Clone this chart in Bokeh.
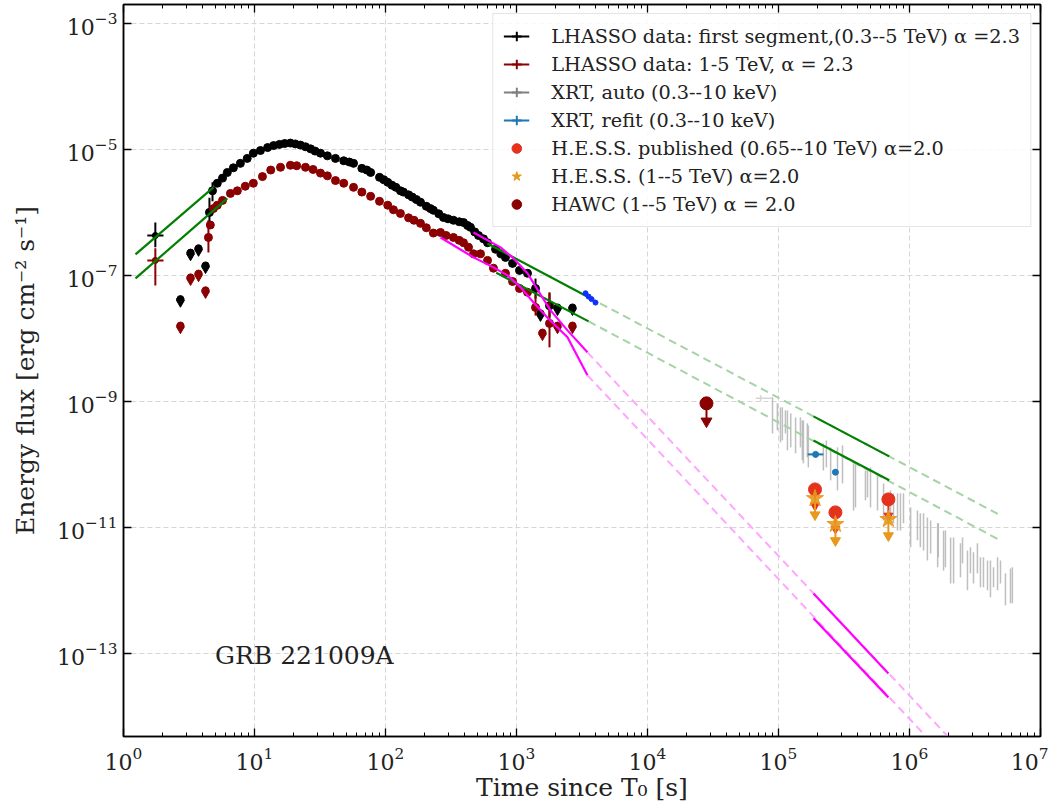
import math
from bokeh.plotting import figure
from bokeh.models import (ColumnDataSource, FixedTicker, LogAxis, Legend, LegendItem, Label)
from bokeh.embed import file_html
from bokeh.resources import INLINE

FONT = "DejaVu Serif"

# ---------------- data ----------------
# LHAASO first segment (0.3--5 TeV), black
lh1_t = [4.53, 4.78, 5.2, 5.7, 6.2, 6.9, 7.8, 8.8, 9.8, 11.1, 12.6, 14, 15.5, 17, 18.8, 20.5, 22.4, 24.5,
         26.8, 29, 31.9, 36, 41.5, 48, 53, 57, 66, 72, 77, 90, 97, 104, 112, 120, 130, 137, 150, 160, 172,
         185, 205, 220, 232, 255, 277, 300, 330, 365, 394, 423, 445, 480, 513, 560, 601, 692, 760, 824,
         933, 1054, 1213, 1397, 1786]
lh1_f = [1.0e-6, 2.2e-6, 2.9e-6, 3.5e-6, 4.3e-6, 5.1e-6, 6.0e-6, 7.2e-6, 8.7e-6, 9.6e-6, 1.07e-5, 1.15e-5,
         1.2e-5, 1.24e-5, 1.26e-5, 1.22e-5, 1.17e-5, 1.1e-5, 1.02e-5, 9.4e-6, 8.7e-6, 7.9e-6, 7.2e-6, 6.6e-6,
         6.3e-6, 6.0e-6, 5.0e-6, 4.7e-6, 4.3e-6, 3.6e-6, 3.3e-6, 3.0e-6, 2.7e-6, 2.5e-6, 2.2e-6, 2.1e-6,
         1.9e-6, 1.75e-6, 1.6e-6, 1.45e-6, 1.25e-6, 1.15e-6, 1.08e-6, 9.5e-7, 8.3e-7, 7.9e-7, 7.5e-7, 7.1e-7,
         6.9e-7, 6.2e-7, 5.8e-7, 4.9e-7, 4.3e-7, 3.8e-7, 3.3e-7, 2.6e-7, 2.2e-7, 1.93e-7, 1.55e-7, 1.2e-7,
         1.08e-7, 6.2e-8, 3.3e-8]
lh1_err_t = [1.75, 4.53, 4.78, 1397, 1786]
lh1_err_lo = [2.8e-7, 6.0e-7, 1.5e-6, 4.3e-8, 2.15e-8]
lh1_err_hi = [6.9e-7, 1.7e-6, 3.0e-6, 8.9e-8, 5.2e-8]
lh1_first_t, lh1_first_f, lh1_first_tlo, lh1_first_thi = [1.75], [4.3e-7], [1.52], [2.02]
lh1_ul_t = [2.72, 3.25, 3.74, 4.23, 1524, 2056, 2675]
lh1_ul_f = [4.2e-8, 2.3e-7, 2.7e-7, 1.44e-7, 2.5e-8, 3.1e-8, 3.1e-8]

# LHAASO 1-5 TeV, dark red
lh2_t = [4.45, 4.6, 4.86, 5.2, 5.7, 6.55, 7.4, 8.5, 9.8, 11.5, 13.3, 15.8, 18.8, 21, 24.5, 28, 31.9, 36,
         41.5, 48, 57, 66, 77, 90, 104, 115, 130, 150, 165, 185, 205, 232, 263, 290, 330, 365, 394, 430,
         470, 531, 601, 667, 824, 933, 1054, 1213, 1397, 1786]
lh2_f = [4.0e-7, 6.3e-7, 1.15e-6, 1.3e-6, 1.55e-6, 2.0e-6, 2.2e-6, 2.6e-6, 2.9e-6, 3.7e-6, 4.7e-6, 5.2e-6,
         5.6e-6, 5.5e-6, 5.2e-6, 4.8e-6, 4.2e-6, 3.8e-6, 3.2e-6, 2.9e-6, 2.5e-6, 2.1e-6, 1.8e-6, 1.5e-6,
         1.3e-6, 1.1e-6, 9.6e-7, 8.2e-7, 7.5e-7, 6.7e-7, 5.7e-7, 4.7e-7, 4.8e-7, 4.3e-7, 4.0e-7, 3.6e-7,
         3.3e-7, 2.8e-7, 2.2e-7, 2.2e-7, 1.73e-7, 1.3e-7, 1.08e-7, 8.0e-8, 6.2e-8, 5.4e-8, 3.1e-8, 1.73e-8]
lh2_err_t = [1.75, 4.45, 1397, 1786]
lh2_err_lo = [6.9e-8, 2.3e-7, 2.3e-8, 7.2e-9]
lh2_err_hi = [2.7e-7, 7.5e-7, 4.8e-8, 5.4e-8]
lh2_first_t, lh2_first_f, lh2_first_tlo, lh2_first_thi = [1.75], [1.73e-7], [1.52], [2.02]
lh2_ul_t = [2.72, 3.25, 3.74, 4.23, 1578, 2056, 2675]
lh2_ul_f = [1.6e-8, 9.3e-8, 1.07e-7, 5.8e-8, 1.24e-8, 1.6e-8, 1.6e-8]

# XRT (auto), grey error bars: time, upper and lower end of each bar
xrt_t = [9.0e4, 9.8e4, 1.07e5, 1.13e5, 1.24e5, 1.35e5, 1.47e5, 1.55e5, 1.66e5, 2.2e5, 2.32e5, 2.5e5,
         2.82e5, 3.08e5, 3.87e5, 4.61e5, 5.04e5, 5.7e5, 6.34e5, 7.16e5, 8.1e5, 9.0e5, 1.02e6, 1.15e6,
         1.28e6, 1.45e6, 1.66e6, 1.88e6, 2.17e6, 2.54e6, 2.92e6, 3.3e6, 3.67e6, 4.15e6, 4.7e6, 5.4e6, 6.1e6]
xrt_hi = [1.16e-9, 9.29e-10, 8.04e-10, 7.19e-10, 6.46e-10, 5.57e-10, 5.57e-10, 4.99e-10, 4.48e-10,
          2.15e-10, 2.40e-10, 1.86e-10, 1.86e-10, 2.0e-10, 1.04e-10, 8.0e-11, 8.95e-11, 7.19e-11, 4.99e-11,
          3.86e-11, 3.47e-11, 3.47e-11, 2.07e-11, 1.86e-11, 1.67e-11, 1.29e-11, 1.16e-11, 8.95e-12,
          6.93e-12, 6.93e-12, 4.82e-12, 5.57e-12, 3.34e-12, 2.99e-12, 3.34e-12, 1.86e-12, 2.32e-12]
xrt_lo = [3.10e-10, 3.47e-10, 2.40e-10, 3.10e-10, 1.86e-10, 1.50e-10, 1.86e-10, 1.04e-10, 1.29e-10,
          8.0e-11, 8.95e-11, 5.57e-11, 3.86e-11, 4.99e-11, 2.07e-11, 2.69e-11, 2.07e-11, 1.86e-11, 1.29e-11,
          1.29e-11, 8.95e-12, 1.16e-11, 4.82e-12, 6.22e-12, 4.31e-12, 3.86e-12, 3.34e-12, 2.32e-12,
          1.29e-12, 2.69e-12, 1.86e-12, 1.86e-12, 1.12e-12, 7.74e-13, 1.0e-12, 5.78e-13, 6.22e-13]
xrt_t_b = [1.035e5, 1.17e5, 1.52e5, 1.69e5, 3.74e5, 4.78e5, 7.55e5, 8.53e5, 1.21e6, 1.37e6, 1.64e6,
           1.82e6, 2.06e6, 2.45e6, 2.77e6, 3.08e6, 3.48e6, 3.94e6, 4.38e6, 4.95e6, 5.9e6]
xrt_hi_b = [8.04e-10, 7.19e-10, 4.99e-10, 4.16e-10, 1.04e-10, 8.04e-11, 3.47e-11, 3.47e-11, 1.67e-11,
            1.44e-11, 1.16e-11, 8.95e-12, 6.93e-12, 5.57e-12, 4.31e-12, 4.01e-12, 3.34e-12, 2.99e-12,
            2.32e-12, 2.99e-12, 2.23e-12]
xrt_lo_b = [2.23e-10, 1.67e-10, 1.16e-10, 8.95e-11, 1.86e-11, 2.99e-11, 1.16e-11, 8.95e-12, 4.82e-12,
            2.99e-12, 2.32e-12, 2.07e-12, 1.29e-12, 1.61e-12, 1.0e-12, 1.29e-12, 1.12e-12, 1.0e-12,
            1.12e-12, 1.29e-12, 6.22e-13]
xrt_first_t, xrt_first_f = [7.3e4], [1.12e-9]
xrt_first_tlo, xrt_first_thi = [6.7e4], [8.9e4]
xrt_first_flo, xrt_first_fhi = [1.0e-9], [1.25e-9]

# XRT refit
refit_t = [1.92e5, 2.72e5]
refit_f = [1.44e-10, 7.5e-11]
refit_tlo = [1.67e5, 2.62e5]
refit_thi = [2.2e5, 2.82e5]
early_xrt_t = [3365, 3550, 3740, 4010]
early_xrt_f = [5.2e-8, 4.6e-8, 4.2e-8, 3.7e-8]

# H.E.S.S. and HAWC (upper limits)
hess_t = [1.9e5, 2.72e5, 6.9e5]
hess_pub_f = [4.0e-11, 1.73e-11, 2.78e-11]
hess_15_f = [2.88e-11, 1.12e-11, 1.34e-11]
hawc_t = [2.82e4]
hawc_f = [9.3e-10]

# model curves
mag_hi_t = [470, 755, 949, 1213, 1524, 1820, 2450, 3480]
mag_hi_f = [4.8e-7, 2.78e-7, 1.86e-7, 1.08e-7, 5.0e-8, 2.78e-8, 1.34e-8, 6.0e-9]
mag_lo_t = [263, 470, 667, 853, 1072, 1349, 1720, 2450, 3480]
mag_lo_f = [4.0e-7, 1.93e-7, 1.34e-7, 1.0e-7, 6.5e-8, 3.7e-8, 2.15e-8, 1.04e-8, 2.6e-9]
mag_hi_ext_t, mag_hi_ext_f = [3480, 2.5e6], [6.0e-9, 2.8e-15]
mag_lo_ext_t, mag_lo_ext_f = [3480, 2.0e6], [2.6e-9, 1.96e-15]
mag_hi_late_t, mag_hi_late_f = [1.85e5, 6.9e5], [8.95e-13, 4.8e-14]
mag_lo_late_t, mag_lo_late_f = [1.85e5, 6.9e5], [3.6e-13, 2.0e-14]

grn_hi_early_t, grn_hi_early_f = [1.235, 4.86], [2.15e-7, 2.5e-6]
grn_lo_early_t, grn_lo_early_f = [1.235, 6.2], [8.95e-8, 1.67e-6]
grn_hi_t, grn_hi_f = [600, 3550], [3.2e-7, 4.5e-8]
grn_lo_t, grn_lo_f = [700, 3550], [1.1e-7, 1.86e-8]
grn_hi_ext_t, grn_hi_ext_f = [3550, 4.95e6], [4.5e-8, 1.55e-11]
grn_lo_ext_t, grn_lo_ext_f = [3550, 4.95e6], [1.86e-8, 6.2e-12]
grn_hi_late_t, grn_hi_late_f = [1.85e5, 7.0e5], [5.78e-10, 1.34e-10]
grn_lo_late_t, grn_lo_late_f = [1.85e5, 7.0e5], [2.4e-10, 5.6e-11]

x_major = [10.0 ** k for k in range(0, 8)]
x_minor = [m * 10.0 ** k for k in range(0, 7) for m in range(2, 10)]
y_major = [10.0 ** k for k in range(-13, -2, 2)]

# ---------------- colours ----------------
BLACK = "black"
DRED = "#8b0000"
GREY = "#b4b4b4"
TABBLUE = "#1f77b4"
HRED = "#e3321e"
ORANGE = "#e8981c"
GREEN = "#008000"
LGREEN = "#a6d3a6"
MAG = "#ff00ff"
LMAG = "#ffa6ff"

p = figure(x_axis_type="log", y_axis_type="log",
           x_range=(1, 1e7), y_range=(10 ** -14.32, 10 ** -2.70),
           frame_width=917, frame_height=732,
           min_border_left=123, min_border_top=4, min_border_right=8, min_border_bottom=0,
           output_backend="svg", toolbar_location=None)
p.background_fill_color = "white"
p.border_fill_color = "white"
p.outline_line_color = "black"
p.outline_line_width = 1.5

xt = FixedTicker(ticks=x_major, minor_ticks=x_minor)
yt = FixedTicker(ticks=y_major, minor_ticks=[])

p.xaxis.ticker = xt
p.yaxis.ticker = yt
p.xgrid.ticker = xt
p.ygrid.ticker = yt
for g in (p.xgrid, p.ygrid):
    g.grid_line_color = "#d6d6d6"
    g.grid_line_dash = "5 3"
    g.grid_line_width = 1

for ax in (p.xaxis[0], p.yaxis[0]):
    ax.major_label_text_font = FONT
    ax.major_label_text_font_size = "22px"
    ax.major_label_text_color = "#222222"
    ax.axis_label_text_font = FONT
    ax.axis_label_text_font_size = "25px"
    ax.axis_label_text_font_style = "normal"
    ax.axis_label_text_color = "#222222"
    ax.major_tick_in = 8
    ax.major_tick_out = 0
    ax.minor_tick_in = 4
    ax.minor_tick_out = 0
    ax.axis_line_width = 1.5
    ax.major_tick_line_width = 1.3

p.xaxis.axis_label = "Time since T\u2080 [s]"
p.yaxis.axis_label = "Energy flux [erg cm\u207b\u00b2 s\u207b\u00b9]"
p.xaxis.major_label_standoff = 10
p.xaxis.axis_label_standoff = 0
p.yaxis.major_label_standoff = 6
p.yaxis.axis_label_standoff = 14

top = LogAxis(ticker=xt, major_label_text_font_size="1px", major_label_text_alpha=0, major_label_standoff=0,
              major_tick_in=8, major_tick_out=0, minor_tick_in=4, minor_tick_out=0,
              axis_line_width=1.5, major_tick_line_width=1.3)
right = LogAxis(ticker=yt, major_label_text_font_size="1px", major_label_text_alpha=0, major_label_standoff=0,
                major_tick_in=8, major_tick_out=0, minor_tick_in=4, minor_tick_out=0,
                axis_line_width=1.5, major_tick_line_width=1.3)
p.add_layout(top, "above")
p.add_layout(right, "right")

# ---------------- XRT grey ----------------
all_t = xrt_t + xrt_t_b
all_lo = xrt_lo + xrt_lo_b
all_hi = xrt_hi + xrt_hi_b
p.segment(x0=all_t, y0=all_lo, x1=all_t, y1=all_hi, line_color=GREY, line_width=1.5, line_alpha=0.85)
p.segment(x0=xrt_first_tlo, y0=xrt_first_f, x1=xrt_first_thi, y1=xrt_first_f, line_color="#d4d4d4", line_width=1.5)
p.segment(x0=xrt_first_t, y0=xrt_first_flo, x1=xrt_first_t, y1=xrt_first_fhi, line_color="#d4d4d4", line_width=1.5)

# ---------------- dashed model extensions ----------------
p.line(grn_hi_ext_t, grn_hi_ext_f, line_color=LGREEN, line_width=2, line_dash="8 5")
p.line(grn_lo_ext_t, grn_lo_ext_f, line_color=LGREEN, line_width=2, line_dash="8 5")
p.line(mag_hi_ext_t, mag_hi_ext_f, line_color=LMAG, line_width=2, line_dash="8 5")
p.line(mag_lo_ext_t, mag_lo_ext_f, line_color=LMAG, line_width=2, line_dash="8 5")

# ---------------- LHAASO ----------------
def lhaaso(color, t, f, et, elo, ehi, ft, ff, ftlo, fthi, ult, ulf):
    p.segment(x0=et, y0=elo, x1=et, y1=ehi, line_color=color, line_width=2)
    p.segment(x0=ftlo, y0=ff, x1=fthi, y1=ff, line_color=color, line_width=2)
    p.scatter(t, f, size=8, color=color)
    p.scatter(ft, ff, size=6, color=color)
    ul_lo = [x * 0.93 for x in ult]
    ul_hi = [x * 1.07 for x in ult]
    p.segment(x0=ul_lo, y0=ulf, x1=ul_hi, y1=ulf, line_color=color, line_width=2)
    p.scatter(ult, ulf, size=7, color=color)
    p.scatter(ult, [v * 0.88 for v in ulf], marker="inverted_triangle", size=8, color=color)

lhaaso(BLACK, lh1_t, lh1_f, lh1_err_t, lh1_err_lo, lh1_err_hi, lh1_first_t, lh1_first_f,
       lh1_first_tlo, lh1_first_thi, lh1_ul_t, lh1_ul_f)
lhaaso(DRED, lh2_t, lh2_f, lh2_err_t, lh2_err_lo, lh2_err_hi, lh2_first_t, lh2_first_f,
       lh2_first_tlo, lh2_first_thi, lh2_ul_t, lh2_ul_f)

# ---------------- solid model lines ----------------
for (xs, ys) in [(grn_hi_early_t, grn_hi_early_f), (grn_lo_early_t, grn_lo_early_f),
                 (grn_hi_t, grn_hi_f), (grn_lo_t, grn_lo_f),
                 (grn_hi_late_t, grn_hi_late_f), (grn_lo_late_t, grn_lo_late_f)]:
    p.line(xs, ys, line_color=GREEN, line_width=2.2)
for (xs, ys) in [(mag_hi_t, mag_hi_f), (mag_lo_t, mag_lo_f),
                 (mag_hi_late_t, mag_hi_late_f), (mag_lo_late_t, mag_lo_late_f)]:
    p.line(xs, ys, line_color=MAG, line_width=2.2)

# early XRT points (blue)
p.scatter(early_xrt_t, early_xrt_f, size=5, color="#1030ff")

# XRT refit
p.segment(x0=refit_tlo, y0=refit_f, x1=refit_thi, y1=refit_f, line_color=TABBLUE, line_width=2)
p.segment(x0=refit_t, y0=[v * 0.9 for v in refit_f], x1=refit_t, y1=[v * 1.1 for v in refit_f],
          line_color=TABBLUE, line_width=2)
p.scatter(refit_t, refit_f, size=6, color=TABBLUE)

# H.E.S.S. published
hp_tip = [v * 0.55 for v in hess_pub_f]
p.segment(x0=hess_t, y0=hess_pub_f, x1=hess_t, y1=hp_tip, line_color=HRED, line_width=2)
p.scatter(hess_t, hp_tip, marker="inverted_triangle", size=9, color=HRED)
p.scatter(hess_t, hess_pub_f, size=13, color=HRED)
# H.E.S.S. 1-5 TeV
ho_tip = [v * 0.55 for v in hess_15_f]
p.segment(x0=hess_t, y0=hess_15_f, x1=hess_t, y1=ho_tip, line_color=ORANGE, line_width=2)
p.scatter(hess_t, ho_tip, marker="inverted_triangle", size=10, color=ORANGE)
p.scatter(hess_t, hess_15_f, marker="star", size=18, color=ORANGE, alpha=0.9)
# HAWC
hw_tip = [v * 0.52 for v in hawc_f]
p.segment(x0=hawc_t, y0=hawc_f, x1=hawc_t, y1=hw_tip, line_color=DRED, line_width=2)
p.scatter(hawc_t, hw_tip, marker="inverted_triangle", size=11, color=DRED)
p.scatter(hawc_t, hawc_f, size=13, color=DRED)

p.add_layout(Label(x=5.0, y=9.3e-14, text="GRB 221009A", text_font=FONT, text_font_size="25px",
                   text_color="#222222", text_baseline="middle"))

# ---------------- legend ----------------
NAN = float("nan")

def dummy():
    return ColumnDataSource(data=dict(x=[NAN], y=[NAN]))

def cross_item(color):
    r1 = p.line("x", "y", source=dummy(), line_color=color, line_width=2)
    r2 = p.scatter("x", "y", source=dummy(), marker="cross", line_color=color, line_width=2)
    return [r1, r2]

items = [
    LegendItem(label="LHASSO data: first segment,(0.3--5 TeV) \u03b1 =2.3", renderers=cross_item(BLACK)),
    LegendItem(label="LHASSO data: 1-5 TeV, \u03b1 = 2.3", renderers=cross_item(DRED)),
    LegendItem(label="XRT, auto (0.3--10 keV)", renderers=cross_item("#808080")),
    LegendItem(label="XRT, refit (0.3--10 keV)", renderers=cross_item(TABBLUE)),
    LegendItem(label="H.E.S.S. published (0.65--10 TeV) \u03b1=2.0",
               renderers=[p.scatter("x", "y", source=dummy(), marker="circle", color=HRED)]),
    LegendItem(label="H.E.S.S. (1--5 TeV) \u03b1=2.0",
               renderers=[p.scatter("x", "y", source=dummy(), marker="star", color=ORANGE)]),
    LegendItem(label="HAWC (1--5 TeV) \u03b1 = 2.0",
               renderers=[p.scatter("x", "y", source=dummy(), marker="circle", color=DRED)]),
]
leg = Legend(items=items, location="top_right", orientation="vertical",
             label_text_font=FONT, label_text_font_size="19.3px", label_text_color="#222222",
             label_height=22, glyph_height=24, glyph_width=26, spacing=4, padding=10,
             label_standoff=22, margin=9,
             border_line_color="#cccccc", border_line_width=1,
             background_fill_color="white", background_fill_alpha=0.85)
p.add_layout(leg)

open("out.html", "w").write(file_html(p, INLINE))
